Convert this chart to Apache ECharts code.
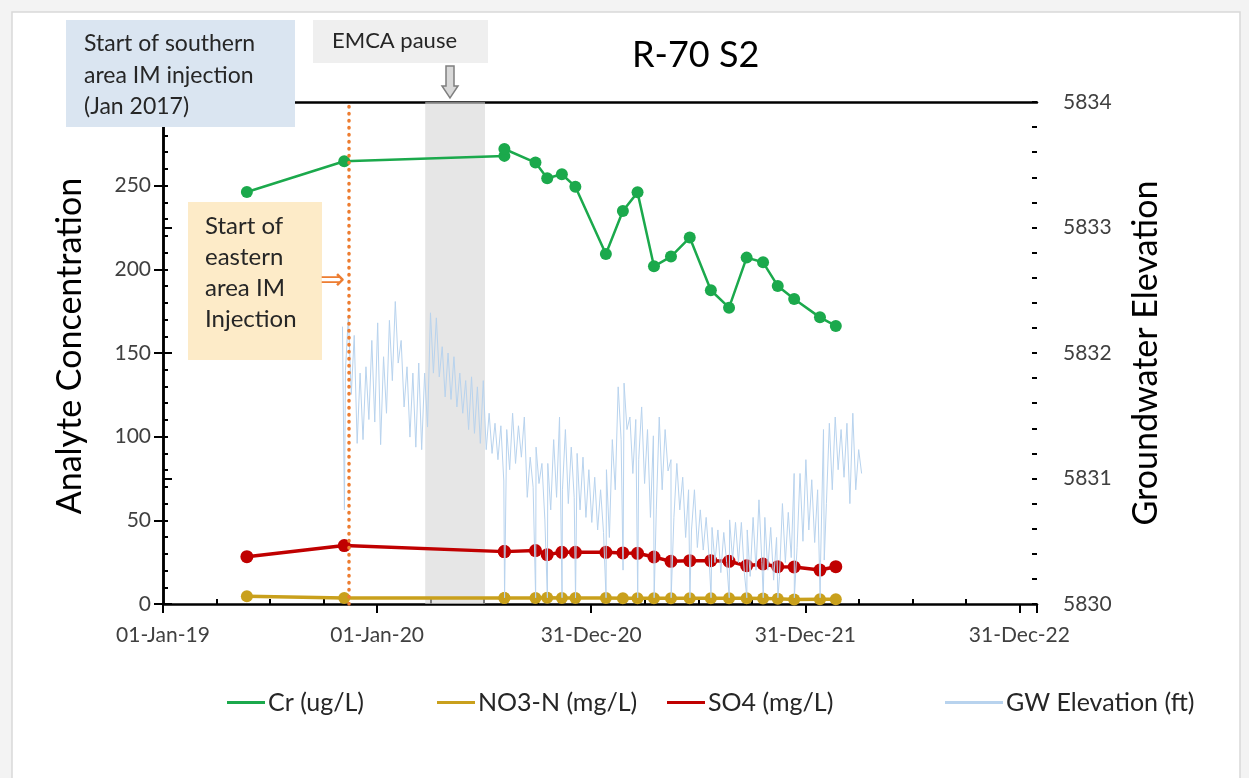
<!DOCTYPE html>
<html>
<head>
<meta charset="utf-8">
<script src="https://cdn.jsdelivr.net/npm/echarts@6/dist/echarts.min.js"></script>
<style>
  html, body { margin: 0; padding: 0; background: #f3f3f3; }
  #chart { width: 1249px; height: 778px; }
</style>
</head>
<body>
<div id="chart"></div>
<script>
const FONT = "Lato, 'Open Sans', sans-serif";

// sampling dates (Cr, NO3-N, SO4 share them)
const sampleDates = [
  "2019-05-24", "2019-11-06", "2020-08-05", "2020-08-05", "2020-09-27", "2020-10-17",
  "2020-11-11", "2020-12-04", "2021-01-25", "2021-02-23", "2021-03-20", "2021-04-17",
  "2021-05-16", "2021-06-17", "2021-07-23", "2021-08-23", "2021-09-22", "2021-10-20",
  "2021-11-14", "2021-12-12", "2022-01-25", "2022-02-21",
];
const crValues = [
  246.2, 264.6, 267.8, 271.9, 263.8, 254.4, 256.8, 249.4, 209.2, 234.9, 246.0, 201.8,
  207.6, 219.0, 187.5, 177.1, 207.0, 204.2, 190.1, 182.3, 171.3, 166.2,
];
const no3Values = [
  4.6, 3.6, 3.6, 3.6, 3.6, 3.7, 3.6, 3.6, 3.6, 3.5, 3.5, 3.5,
  3.4, 3.4, 3.4, 3.4, 3.4, 3.3, 3.2, 2.7, 2.8, 2.8,
];
const so4Values = [
  28.3, 34.9, 31.3, 31.3, 31.9, 29.5, 30.9, 30.9, 30.9, 30.5, 30.3, 28.1,
  25.5, 25.9, 25.9, 25.5, 22.9, 23.9, 22.3, 22.1, 20.3, 22.3,
];

// groundwater elevation, read as upper / lower swing every 10 days
const gwStart = "2019-11-03";
const gwStepDays = 10;
const gwHigh = [
  5832.21, 5832.29, 5832.14, 5831.84, 5831.89, 5832.10, 5832.24, 5831.97, 5832.26, 5832.41,
  5832.10, 5831.89, 5831.84, 5831.92, 5831.84, 5832.32, 5832.28, 5832.05, 5832.00, 5831.97,
  5831.84, 5831.78, 5831.81, 5831.73, 5831.78, 5831.52, 5831.44, 5831.42, 5831.39, 5831.52,
  5831.42, 5831.49, 5831.17, 5831.25, 5831.12, 5831.12, 5831.31, 5831.49, 5831.39, 5831.25,
  5831.20, 5831.17, 5831.07, 5831.01, 5830.91, 5831.07, 5831.31, 5831.73, 5831.76, 5831.49,
  5831.47, 5831.57, 5831.39, 5831.34, 5831.49, 5831.39, 5831.15, 5831.12, 5831.01, 5830.91,
  5830.91, 5830.75, 5830.69, 5830.61, 5830.59, 5830.57, 5830.67, 5830.65, 5830.65, 5830.59,
  5830.69, 5830.83, 5830.69, 5830.61, 5830.53, 5830.80, 5830.73, 5831.04, 5831.04, 5831.15,
  5830.99, 5830.91, 5831.39, 5831.44, 5831.49, 5831.39, 5831.44, 5831.52, 5831.23,
];
const gwLow = [
  5831.86, 5831.67, 5831.28, 5831.31, 5831.47, 5831.45, 5831.27, 5831.52, 5831.78, 5831.92,
  5831.57, 5831.33, 5831.25, 5831.23, 5831.41, 5831.84, 5831.81, 5831.65, 5831.63, 5831.57,
  5831.52, 5831.39, 5831.36, 5831.28, 5831.23, 5831.20, 5831.15, 5830.98, 5831.07, 5831.12,
  5831.17, 5830.85, 5830.93, 5830.96, 5830.67, 5830.75, 5830.85, 5830.91, 5830.80, 5830.85,
  5830.75, 5830.69, 5830.65, 5830.59, 5830.57, 5830.53, 5830.91, 5831.31, 5831.39, 5831.04,
  5831.15, 5830.96, 5830.69, 5830.75, 5830.91, 5831.06, 5830.69, 5830.75, 5830.53, 5830.59,
  5830.45, 5830.43, 5830.37, 5830.33, 5830.25, 5830.33, 5830.35, 5830.33, 5830.25, 5830.22,
  5830.27, 5830.33, 5830.27, 5830.19, 5830.22, 5830.33, 5830.37, 5830.45, 5830.50, 5830.59,
  5830.49, 5830.33, 5830.80, 5830.91, 5831.07, 5831.01, 5830.80, 5830.91, 5831.04,
];
// short drawdowns on sampling days
const gwDrops = [
  ["2019-11-06", 5830.75], ["2020-08-05", 5830.05], ["2020-09-27", 5830.05], ["2020-10-17", 5830.05],
  ["2020-11-11", 5830.05], ["2020-12-04", 5830.05], ["2021-01-25", 5830.05], ["2021-02-23", 5830.27],
  ["2021-03-20", 5830.05], ["2021-04-17", 5830.05], ["2021-05-16", 5830.05], ["2021-06-17", 5830.05],
  ["2021-07-23", 5830.05], ["2021-08-23", 5830.05], ["2021-09-22", 5830.05], ["2021-10-20", 5830.05],
  ["2021-11-14", 5830.05], ["2021-12-12", 5830.05], ["2022-01-25", 5830.05], ["2022-02-01", 5830.35],
];

const eastStart = "2019-11-14";
const emcaPause = ["2020-03-23", "2020-07-03"];
const xMaxDays = 1490;

const MONTHS = ["Jan", "Feb", "Mar", "Apr", "May", "Jun", "Jul", "Aug", "Sep", "Oct", "Nov", "Dec"];
const BASE = Date.UTC(2019, 0, 1);

function dayOf(text) {
  const [y, m, d] = text.split("-").map(Number);
  return (Date.UTC(y, m - 1, d) - BASE) / 86400000;
}

function dateLabel(days) {
  if (days % 365 !== 0) return "";
  const dt = new Date(BASE + days * 86400000);
  const dd = String(dt.getUTCDate()).padStart(2, "0");
  return `${dd}-${MONTHS[dt.getUTCMonth()]}-${String(dt.getUTCFullYear()).slice(2)}`;
}

function pairs(values) {
  return values.map((v, i) => [dayOf(sampleDates[i]), v]);
}

function gwSeriesData() {
  const start = dayOf(gwStart);
  const points = [];
  gwHigh.forEach((v, i) => {
    points.push([start + i * gwStepDays, v]);
    points.push([start + i * gwStepDays + gwStepDays / 2, gwLow[i]]);
  });
  gwDrops.forEach(([d, v]) => points.push([dayOf(d) + 0.3, v]));
  return points.sort((a, b) => a[0] - b[0]);
}

const labelStyle = { color: "#404040", fontFamily: FONT, fontSize: 21 };
const black = { color: "#000", width: 2.5 };
const tickLine = { color: "#000", width: 2 };

function minorAxis(base, split) {
  return Object.assign({}, base, {
    axisLine: { show: false },
    axisLabel: { show: false },
    splitLine: { show: false },
    axisTick: { show: true, inside: true, length: 5, lineStyle: tickLine },
    minorTick: { show: true, splitNumber: split, length: 5, lineStyle: tickLine },
    minorSplitLine: { show: false },
  });
}

const xBase = { type: "value", min: 0, max: xMaxDays, interval: 365, position: "bottom" };
const yLeftBase = { type: "value", min: 0, max: 300, interval: 50, position: "left" };
const yRightBase = { type: "value", min: 5830, max: 5834, interval: 1, position: "right" };

function legendAt(name, left, width) {
  return {
    data: [name],
    left,
    top: 685,
    icon: "rect",
    itemWidth: width,
    itemHeight: 3,
    itemGap: 4,
    textStyle: { color: "#262626", fontFamily: FONT, fontSize: 25, padding: [0, 0, 0, -2] },
  };
}

const chart = echarts.init(document.getElementById("chart"));

chart.setOption({
  animation: false,
  backgroundColor: "#f3f3f3",
  textStyle: { fontFamily: FONT },
  title: {
    text: "R-70 S2",
    left: 627,
    top: 32,
    textStyle: { fontFamily: FONT, fontSize: 36, fontWeight: "normal", color: "#000" },
  },
  grid: { left: 163, right: 212, top: 102, bottom: 174 },
  legend: [
    legendAt("Cr (ug/L)", 222, 38),
    legendAt("NO3-N (mg/L)", 432, 38),
    legendAt("SO4 (mg/L)", 662, 38),
    legendAt("GW Elevation (ft)", 940, 58),
  ],
  xAxis: [
    Object.assign({}, xBase, {
      axisLine: { lineStyle: black },
      axisTick: { show: true, length: 9, lineStyle: tickLine },
      axisLabel: Object.assign({ margin: 21, formatter: dateLabel }, labelStyle),
      splitLine: { show: false },
    }),
    Object.assign(minorAxis(xBase, 4), { axisTick: { show: false, inside: true } }),
    { type: "value", min: 0, max: xMaxDays, position: "top",
      axisLine: { lineStyle: black }, axisTick: { show: false }, axisLabel: { show: false },
      splitLine: { show: false } },
  ],
  yAxis: [
    Object.assign({}, yLeftBase, {
      name: "Analyte Concentration",
      nameLocation: "middle",
      nameGap: 76,
      nameTextStyle: { fontFamily: FONT, fontSize: 34, color: "#000", padding: [0, 0, 0, 14] },
      axisLine: { show: true, lineStyle: black },
      axisTick: { show: true, length: 9, lineStyle: tickLine },
      axisLabel: Object.assign({ margin: 12 }, labelStyle),
      splitLine: { show: false },
    }),
    Object.assign({}, yRightBase, {
      name: "Groundwater Elevation",
      nameLocation: "middle",
      nameGap: 92,
      nameTextStyle: { fontFamily: FONT, fontSize: 34, color: "#000" },
      axisLine: { show: true, lineStyle: black },
      axisTick: { show: true, length: 9, lineStyle: tickLine },
      axisLabel: Object.assign({ margin: 26, formatter: (v) => String(v) }, labelStyle),
      splitLine: { show: false },
    }),
    minorAxis(yLeftBase, 5),
    minorAxis(yRightBase, 5),
  ],
  series: [
    {
      name: "NO3-N (mg/L)",
      type: "line",
      z: 2,
      color: "#c9a01c",
      symbol: "circle",
      symbolSize: 12,
      lineStyle: { width: 3.5 },
      data: pairs(no3Values),
    },
    {
      name: "SO4 (mg/L)",
      type: "line",
      z: 2,
      color: "#c00000",
      symbol: "circle",
      symbolSize: 13,
      lineStyle: { width: 3.5 },
      data: pairs(so4Values),
    },
    {
      name: "Cr (ug/L)",
      type: "line",
      z: 2,
      color: "#1ba94c",
      symbol: "circle",
      symbolSize: 12,
      lineStyle: { width: 2.5 },
      data: pairs(crValues),
    },
    {
      name: "GW Elevation (ft)",
      type: "line",
      yAxisIndex: 1,
      z: 3,
      color: "#b8d3ee",
      symbol: "none",
      lineStyle: { width: 1 },
      data: gwSeriesData(),
    },
    {
      name: "marks",
      type: "line",
      z: 4,
      data: [],
      markArea: {
        silent: true,
        itemStyle: { color: "rgba(214,214,214,0.6)" },
        data: [[{ xAxis: dayOf(emcaPause[0]) }, { xAxis: dayOf(emcaPause[1]) }]],
      },
      markLine: {
        silent: true,
        symbol: "none",
        label: { show: false },
        lineStyle: { color: "#ed7d31", width: 3.5, type: [0.5, 6.5], cap: "round" },
        data: [{ xAxis: dayOf(eastStart) }],
      },
    },
  ],
  graphic: [
    { type: "rect", z: -10, shape: { x: 12, y: 12, width: 1228, height: 800 },
      style: { fill: "#fff", stroke: "#d9d9d9", lineWidth: 1.5 } },
    { type: "rect", z: 100, shape: { x: 66, y: 20, width: 229, height: 107 }, style: { fill: "#dae5f1" } },
    { type: "text", z: 101, left: 84, top: 28,
      style: { text: "Start of southern\narea IM injection\n(Jan 2017)", fill: "#262626", font: `23px ${FONT}`, lineHeight: 31.5 } },
    { type: "rect", z: 100, shape: { x: 313, y: 20, width: 175, height: 43 }, style: { fill: "#efefef" } },
    { type: "text", z: 101, left: 332, top: 30,
      style: { text: "EMCA pause", fill: "#262626", font: `22px ${FONT}` } },
    { type: "polygon", z: 101,
      shape: { points: [[446, 66], [454, 66], [454, 86], [458, 86], [450, 98], [442, 86], [446, 86]] },
      style: { fill: "#d9d9d9", stroke: "#7f7f7f", lineWidth: 1.5 } },
    { type: "rect", z: 100, shape: { x: 188, y: 202, width: 134, height: 158 }, style: { fill: "#fdebc8" } },
    { type: "text", z: 101, left: 205, top: 211,
      style: { text: "Start of\neastern\narea IM\nInjection", fill: "#262626", font: `24px ${FONT}`, lineHeight: 31 } },
    { type: "text", z: 101, left: 320, top: 266,
      style: { text: "⇒", fill: "#ed7d31", font: "30px 'DejaVu Sans'" } },
  ],
});
</script>
</body>
</html>
